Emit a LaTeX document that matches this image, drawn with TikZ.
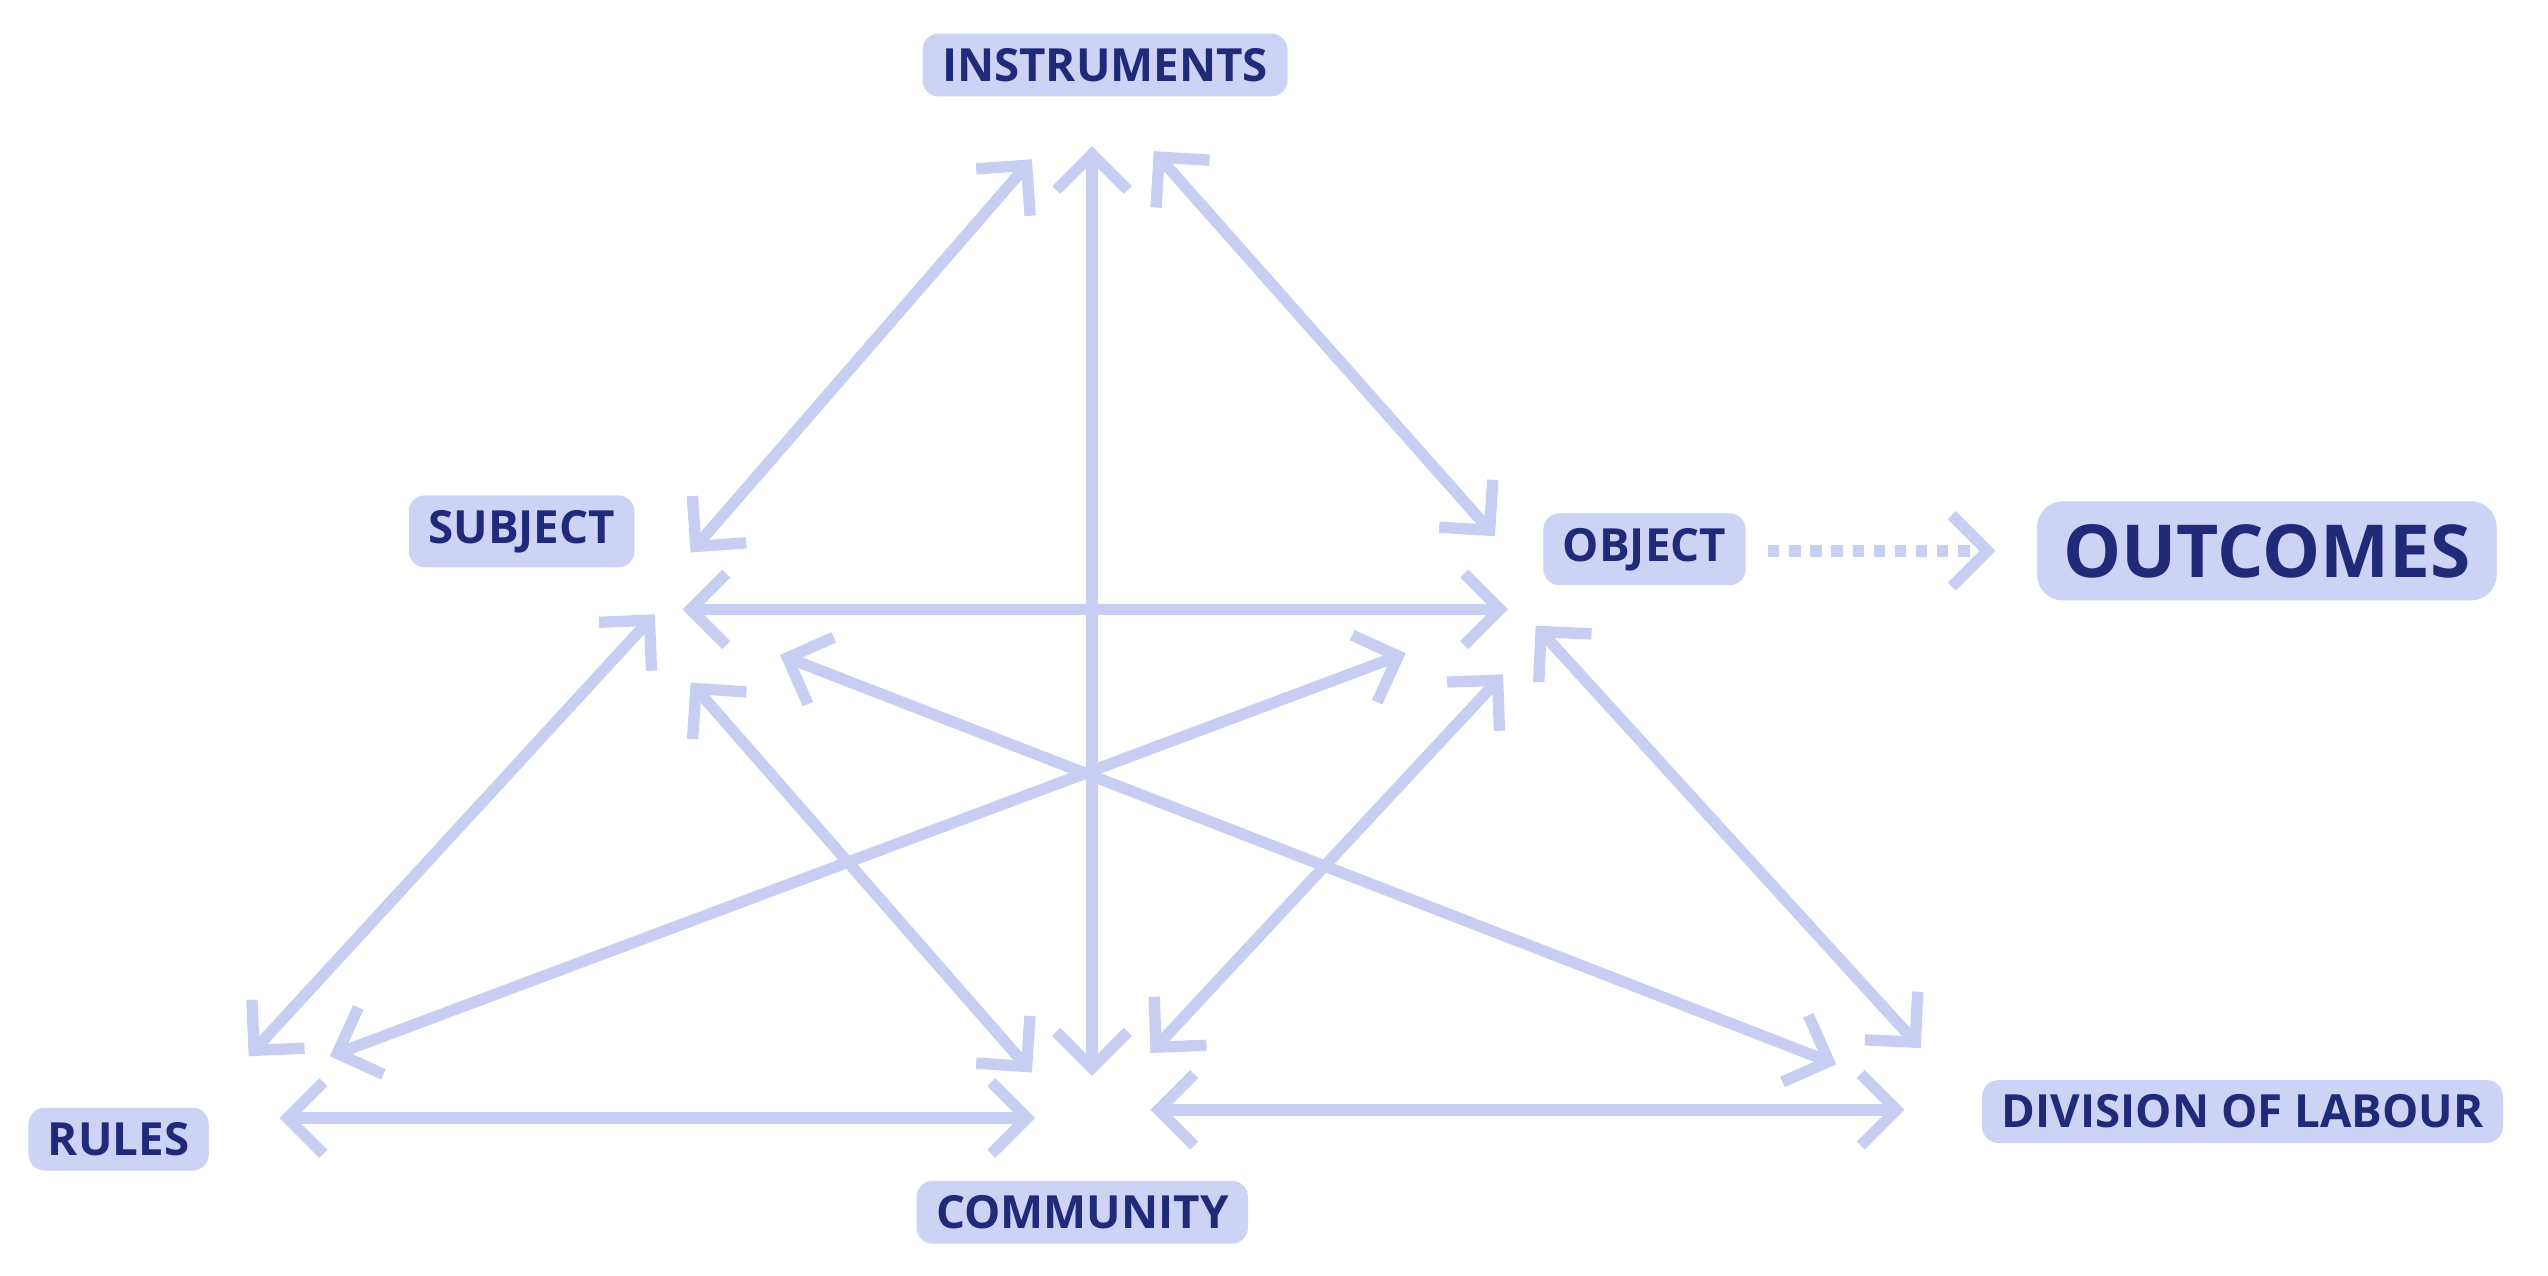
\documentclass[tikz,border=0pt]{standalone}
\usepackage{fontspec}
\setmainfont{Open Sans}
\usetikzlibrary{arrows.meta}
\definecolor{boxc}{HTML}{CDD3F5}
\definecolor{txt}{HTML}{1F2A78}
\definecolor{arr}{HTML}{C8CEF2}
\tikzset{
 lbl/.style={fill=boxc,rounded corners=0.5cm,text=txt,font=\fontsize{40}{48}\selectfont\bfseries,inner xsep=0.6cm,inner ysep=0.45cm},
 big/.style={lbl,font=\fontsize{64}{76}\selectfont\bfseries,rounded corners=0.8cm,inner xsep=0.8cm,inner ysep=0.7cm},
 dbl/.style={draw=arr,line width=0.35cm,{Straight Barb[length=1.1cm,width=2.2cm,line width=0.35cm]}-{Straight Barb[length=1.1cm,width=2.2cm,line width=0.35cm]}},
 dots/.style={draw=arr,line width=0.35cm,dash pattern=on 0.35cm off 0.3cm,-{Straight Barb[length=1.1cm,width=2.2cm,line width=0.35cm]}}
}
\begin{document}
\begin{tikzpicture}[x=0.05cm,y=-0.05cm]
\useasboundingbox (0,0) rectangle (1568,785);
\node[lbl] (ins) at (680,40) {INSTRUMENTS};
\node[lbl] (sub) at (321,327) {SUBJECT};
\node[lbl] (obj) at (1012,338) {OBJECT};
\node[big] (out) at (1395,339) {OUTCOMES};
\node[lbl] (rul) at (73,701) {RULES};
\node[lbl] (com) at (666,746) {COMMUNITY};
\node[lbl] (div) at (1380,684) {DIVISION OF LABOUR};
\coordinate (a1) at (635,98); \coordinate (b1) at (425,340);
\coordinate (a2) at (672,90); \coordinate (b2) at (672,662);
\coordinate (a3) at (710,93); \coordinate (b3) at (920,330);
\coordinate (a4) at (420,375); \coordinate (b4) at (928,375);
\coordinate (a5) at (403,378); \coordinate (b5) at (153,650);
\coordinate (a6) at (425,420); \coordinate (b6) at (635,660);
\coordinate (a7) at (480,403); \coordinate (b7) at (1130,655);
\coordinate (a8) at (865,402); \coordinate (b8) at (203,650);
\coordinate (a9) at (925,415); \coordinate (b9) at (708,648);
\coordinate (a10) at (945,385); \coordinate (b10) at (1182,645);
\coordinate (a11) at (172,688); \coordinate (b11) at (637,688);
\coordinate (a12) at (708,683); \coordinate (b12) at (1172,683);
\foreach \i in {1,...,12} {\draw[dbl] (a\i) -- (b\i);}
\coordinate (d1) at (1088,339); \coordinate (d2) at (1228,339);
\draw[dots] (d1) -- (d2);
\end{tikzpicture}
\end{document}
